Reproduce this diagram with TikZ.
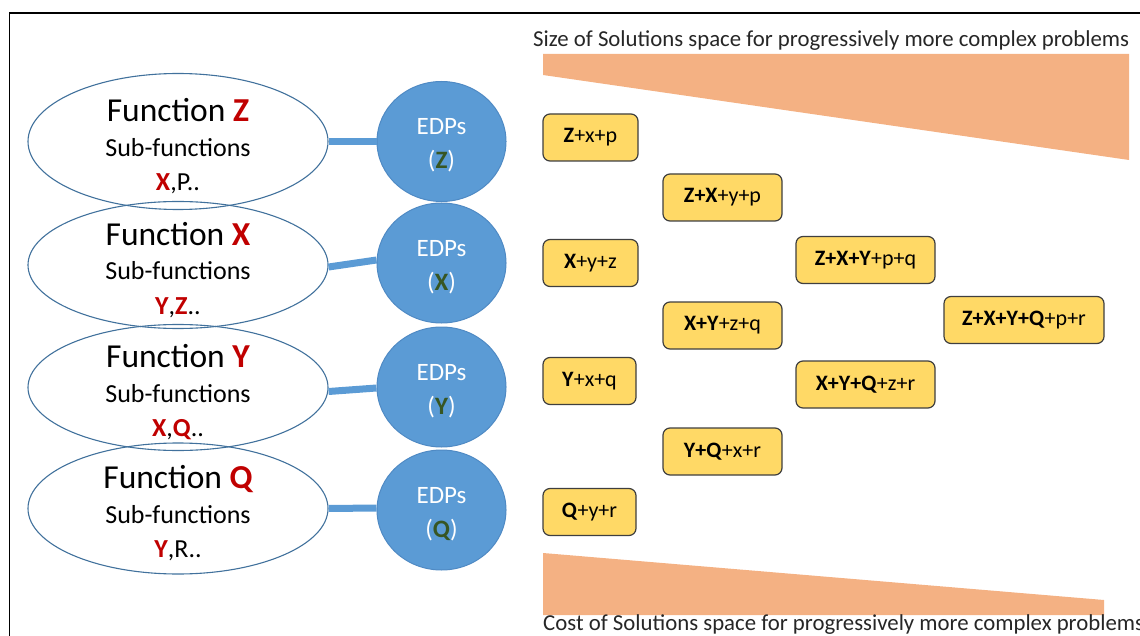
\documentclass[tikz,border=0pt]{standalone}
\usepackage{fontspec}
\setmainfont{Carlito}
\usetikzlibrary{shapes.geometric,calc}

\definecolor{edpblue}{HTML}{5B9BD5}
\definecolor{edpedge}{HTML}{4F8AC4}
\definecolor{fnedge}{HTML}{41719C}
\definecolor{fnred}{HTML}{C00000}
\definecolor{letgreen}{HTML}{375623}
\definecolor{boxfill}{HTML}{FFD966}
\definecolor{boxedge}{HTML}{3F3F3F}
\definecolor{wedgefill}{HTML}{F4B183}

\newcommand\fnhead[1]{{\fontsize{33.5}{34.5}\selectfont Function \textbf{\color{fnred}#1}}}
\newcommand\redb[1]{\textbf{\color{fnred}#1}}
\newcommand\edpletter[1]{(\textbf{\color{letgreen}#1})}
\newcommand\edphead{\rule{0pt}{24pt}EDPs}

\tikzset{
  fn/.style={ellipse, draw=fnedge, line width=1.1pt, minimum width=300pt,
    inner sep=0pt},
  fntext/.style={inner sep=0pt, align=center, yshift=-5pt,
    font=\fontsize{26}{34.5}\selectfont},
  edp/.style={ellipse, fill=edpblue, draw=edpedge, line width=1pt,
    minimum width=129pt, minimum height=120pt, inner sep=0pt, align=center,
    text=white, font=\fontsize{25}{34}\selectfont},
  link/.style={draw=edpblue, line width=7pt},
  combo/.style={rounded corners=7pt, fill=boxfill, draw=boxedge, line width=1.2pt,
    minimum height=47pt, inner sep=0pt, font=\fontsize{22}{26}\selectfont},
  caption/.style={inner sep=0pt, font=\fontsize{22.8}{27}\selectfont, text=black!85},
  wedge/.style={fill=wedgefill, draw=none}
}

\begin{document}
\begin{tikzpicture}[x=1pt, y=-1pt]
  \useasboundingbox (0,0) rectangle (1140,636);
  % outer frame (runs past the right and bottom edges)
  \draw[line width=1.6pt] (9.5,13) rectangle (1160,660);

  % wedges for solution-space size and cost
  \fill[wedge] (543,54) -- (1129,54) -- (1129,160) -- (543,75) -- cycle;
  \fill[wedge] (543,553) -- (1104,600) -- (1104,615) -- (543,615) -- cycle;
  \node[caption, anchor=base west] (topcap) at (533,47)
    {Size of Solutions space for progressively more complex problems};
  \node[caption, anchor=base west] (botcap) at (543,630)
    {Cost of Solutions space for progressively more complex problems};

  % function ellipses and their texts
  \node[fn, minimum height=136pt] (eZ) at (178,141.5) {};
  \node[fn, minimum height=127pt] (eX) at (178,265) {};
  \node[fn, minimum height=126pt] (eY) at (178,387.5) {};
  \node[fn, minimum height=131pt] (eQ) at (178,508.5) {};
  \node[fntext] (tZ) at (eZ) {\fnhead{Z}\\Sub-functions\\\redb{X},P..};
  \node[fntext] (tX) at (eX) {\fnhead{X}\\Sub-functions\\\redb{Y},\redb{Z}..};
  \node[fntext] (tY) at (eY) {\fnhead{Y}\\Sub-functions\\\redb{X},\redb{Q}..};
  \node[fntext] (tQ) at (eQ) {\fnhead{Q}\\Sub-functions\\\redb{Y},R..};

  % EDP circles
  \node[edp] (cZ) at (441.5,141.5) {\edphead\\\edpletter{Z}};
  \node[edp] (cX) at (441.5,263) {\edphead\\\edpletter{X}};
  \node[edp] (cY) at (441.5,387) {\edphead\\\edpletter{Y}};
  \node[edp] (cQ) at (441.5,510) {\edphead\\\edpletter{Q}};

  % links between functions and their EDPs
  \draw[link] (eZ.east) -- (cZ.west);
  \draw[link] ($(eX.east)+(0,2)$) -- ($(cX.west)+(0,-3)$);
  \draw[link] ($(eY.east)+(0,4)$) -- ($(cY.west)+(0,1)$);
  \draw[link] (eQ.east) -- ($(cQ.west)+(0,-2)$);

  % combined solution boxes
  \node[combo, minimum width=95pt]  (s1)  at (590.5,137.5) {\textbf{Z}+x+p};
  \node[combo, minimum width=119pt] (s2)  at (722.5,197.5) {\textbf{Z+X}+y+p};
  \node[combo, minimum width=95pt]  (s3)  at (590.5,263)   {\textbf{X}+y+z};
  \node[combo, minimum width=139pt] (s4)  at (865.5,260)   {\textbf{Z+X+Y}+p+q};
  \node[combo, minimum width=119pt] (s5)  at (722.5,325.5) {\textbf{X+Y}+z+q};
  \node[combo, minimum width=160pt] (s6)  at (1024,320)    {\textbf{Z+X+Y+Q}+p+r};
  \node[combo, minimum width=93pt]  (s7)  at (589.5,381)   {\textbf{Y}+x+q};
  \node[combo, minimum width=139pt] (s8)  at (865.5,384.5) {\textbf{X+Y+Q}+z+r};
  \node[combo, minimum width=119pt] (s9)  at (722.5,451.5) {\textbf{Y+Q}+x+r};
  \node[combo, minimum width=93pt]  (s10) at (589.5,512)   {\textbf{Q}+y+r};
\end{tikzpicture}
\end{document}
